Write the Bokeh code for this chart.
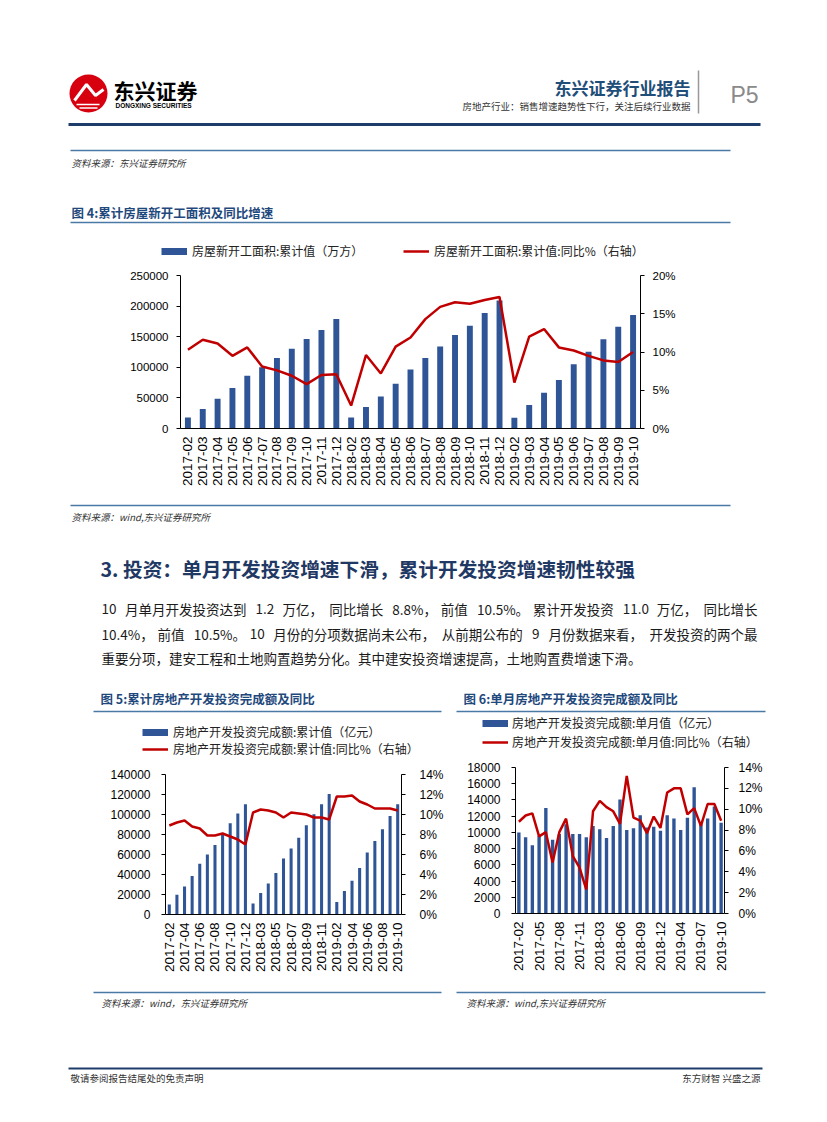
import math
from bokeh.plotting import figure
from bokeh.models import (Range1d, LinearAxis, FixedTicker, PrintfTickFormatter,
                          Legend, LegendItem)
from bokeh.layouts import column, row
from bokeh.embed import file_html
from bokeh.resources import INLINE
from bokeh.core.properties import value

CJK = "Noto Sans CJK SC"
LAT = "Liberation Sans"
BAR = "#2F5597"
RED = "#C00000"
NAVY = "#1F497D"
RULE = "#4A79A5"

# ---------------- data ----------------
months = ["2017-02", "2017-03", "2017-04", "2017-05", "2017-06", "2017-07", "2017-08",
          "2017-09", "2017-10", "2017-11", "2017-12",
          "2018-02", "2018-03", "2018-04", "2018-05", "2018-06", "2018-07", "2018-08",
          "2018-09", "2018-10", "2018-11", "2018-12",
          "2019-02", "2019-03", "2019-04", "2019-05", "2019-06", "2019-07", "2019-08",
          "2019-09", "2019-10"]

newstart_cum = [18000, 31700, 48600, 66000, 86300, 100000, 115200, 130500, 146300, 161000, 179000,
                18000, 35000, 52400, 73200, 96600, 115200, 134000, 152600, 168000, 188700, 209000,
                17500, 38300, 58500, 79300, 105000, 125300, 146000, 166300, 185400]
newstart_yoy = [10.3, 11.6, 11.1, 9.5, 10.6, 8.1, 7.6, 6.9, 5.8, 7.0, 7.1,
                3.0, 9.6, 7.2, 10.7, 11.9, 14.3, 15.9, 16.5, 16.3, 16.8, 17.2,
                6.0, 12.0, 13.0, 10.6, 10.2, 9.5, 8.9, 8.7, 10.0]

inv_cum = [10000, 19700, 28000, 38400, 50800, 60100, 69500, 80500, 91200, 100900, 110200,
           11000, 21400, 31000, 41400, 56100, 66100, 76800, 89200, 100200, 110200, 120600,
           12400, 23400, 33700, 46400, 62100, 73500, 85200, 98500, 110200]
inv_cum_yoy = [8.9, 9.2, 9.4, 8.8, 8.6, 7.9, 7.9, 8.1, 7.8, 7.5, 7.0,
               10.2, 10.5, 10.4, 10.2, 9.7, 10.2, 10.1, 10.0, 9.7, 9.7, 9.5,
               11.8, 11.8, 11.9, 11.3, 11.0, 10.6, 10.6, 10.6, 10.4]

inv_month = [10000, 9400, 8400, 9600, 13000, 9100, 9800, 11000, 9800, 9800, 9400,
             10800, 10400, 9300, 10800, 14050, 10300, 10500, 12100, 10600, 10700, 10200,
             12100, 11700, 10300, 11800, 15550, 11000, 11700, 13200, 11200]
inv_month_yoy = [8.8, 9.4, 9.6, 7.4, 7.8, 4.9, 7.8, 9.1, 5.5, 4.4, 2.3,
                 9.8, 10.8, 10.2, 9.8, 8.6, 13.2, 9.2, 8.9, 7.7, 9.3, 8.2,
                 11.6, 12.0, 12.0, 9.5, 10.1, 8.4, 10.5, 10.5, 8.9]

ticks4_left = [0, 50000, 100000, 150000, 200000, 250000]
ticks4_right = [0, 5, 10, 15, 20]
ticks5_left = [0, 20000, 40000, 60000, 80000, 100000, 120000, 140000]
ticks5_right = [0, 2, 4, 6, 8, 10, 12, 14]
ticks6_left = [0, 2000, 4000, 6000, 8000, 10000, 12000, 14000, 16000, 18000]
ticks6_right = [0, 2, 4, 6, 8, 10, 12, 14]

leg4_bar = "房屋新开工面积:累计值（万方）"
leg4_line = "房屋新开工面积:累计值:同比%（右轴）"
leg5_bar = "房地产开发投资完成额:累计值（亿元）"
leg5_line = "房地产开发投资完成额:累计值:同比%（右轴）"
leg6_bar = "房地产开发投资完成额:单月值（亿元）"
leg6_line = "房地产开发投资完成额:单月值:同比%（右轴）"

para = ["10 月单月开发投资达到 1.2 万亿，同比增长 8.8%，前值 10.5%。累计开发投资 11.0 万亿，同比增长",
        "10.4%，前值 10.5%。10 月份的分项数据尚未公布，从前期公布的 9 月份数据来看，开发投资的两个最",
        "重要分项，建安工程和土地购置趋势分化。其中建安投资增速提高，土地购置费增速下滑。"]


# ---------------- helpers ----------------
def deco(x0, x1, y0, y1):
    p = figure(width=x1 - x0, height=y1 - y0, x_range=Range1d(x0, x1), y_range=Range1d(y1, y0),
               output_backend="svg", toolbar_location=None, min_border=0,
               x_axis_location=None, y_axis_location=None)
    p.frame_align = False
    p.grid.visible = False
    p.outline_line_color = None
    return p


def txt(p, x, y, s, size, color="#000000", font=CJK, style="normal", align="left"):
    p.text(x=[x], y=[y], text=[s], text_font=value(font), text_font_size=f"{size}px",
           text_color=color, text_font_style=style, text_align=align, text_baseline="middle")


def hline(p, x0, x1, y, color=RULE, w=1.5):
    p.line([x0, x1], [y, y], line_color=color, line_width=w)


def char_w(c):
    if ord(c) > 0x2000:
        return 1.0
    if c.isdigit():
        return 0.53
    if c == ".":
        return 0.26
    if c == "%":
        return 0.82
    if c == " ":
        return 0.22
    return 0.53


def justified(p, x0, x1, y, s, size, color, justify=True):
    # split into phrases at spaces and after full-width punctuation
    chunks, cur, sp = [], "", 0.0
    for c in s:
        if c == " ":
            if cur:
                chunks.append((cur, sp))
                cur, sp = "", 0.0
            sp += char_w(c) * size
            continue
        cur += c
        if c in "，。":
            chunks.append((cur, sp))
            cur, sp = "", 0.0
    if cur:
        chunks.append((cur, sp))
    width = lambda t: sum(char_w(ch) for ch in t) * size
    nat = sum(width(t) + b for t, b in chunks)
    extra = (x1 - x0 - nat) / (len(chunks) - 1) if justify else 0.0
    x = x0
    for i, (t, b) in enumerate(chunks):
        x += b + (extra if i > 0 else 0.0)
        txt(p, x, y, t, size, color=color)
        x += width(t)


def legend_in(p, page_x0, page_y1, kind, label, sx, sy, standoff):
    """Legend entry placed inside a page-strip figure (screen offsets from its frame)."""
    if kind == "bar":
        r = p.line(x=[sx], y=[sy], line_color=BAR, line_width=7)
    else:
        r = p.line(x=[sx], y=[sy], line_color=RED, line_width=2.5)
    h = 16
    leg = Legend(items=[LegendItem(label=label, renderers=[r])],
                 location=(sx - page_x0, page_y1 - sy - h / 2), orientation="vertical",
                 padding=0, margin=0, spacing=0, glyph_width=26, glyph_height=h,
                 label_height=h, label_standoff=standoff, border_line_color=None,
                 background_fill_alpha=0, label_text_font=CJK,
                 label_text_font_size="12px", label_text_color="#222222")
    p.add_layout(leg)


def style_axis(ax, size):
    ax.axis_line_color = "#000000"
    ax.axis_line_width = 1
    ax.major_tick_line_color = "#000000"
    ax.major_tick_out = 4
    ax.major_tick_in = 0
    ax.minor_tick_line_color = None
    ax.major_label_text_font = LAT
    ax.major_label_text_font_size = f"{size}px"
    ax.major_label_text_color = "#000000"


def chart(page_x0, page_x1, page_y0, page_y1, fl, fr, ft, fb, ymax, lticks, rmax, rticks,
          step, bars, yoy, bar_w, fsize, lstand, rstand):
    p = figure(frame_width=fr - fl, frame_height=fb - ft,
               min_border_left=fl - page_x0, min_border_right=page_x1 - fr,
               min_border_top=ft - page_y0, min_border_bottom=page_y1 - fb,
               x_range=Range1d(-0.5, len(months) - 0.5), y_range=Range1d(0, ymax),
               output_backend="svg", toolbar_location=None, title=None)
    p.frame_align = False
    p.grid.visible = False
    p.outline_line_color = None
    p.extra_y_ranges = {"r": Range1d(0, rmax)}
    idx = list(range(len(months)))
    p.vbar(x=idx, top=bars, width=bar_w, fill_color=BAR, line_color=None)
    p.line(x=idx, y=yoy, y_range_name="r", line_color=RED, line_width=2.5)

    xa = p.xaxis[0]
    style_axis(xa, 13.5)
    xticks = idx[::step]
    xa.ticker = FixedTicker(ticks=xticks)
    xa.major_label_overrides = {i: months[i] for i in xticks}
    xa.major_label_orientation = math.pi / 2
    xa.major_tick_line_color = None
    xa.major_label_standoff = 4

    ya = p.yaxis[0]
    style_axis(ya, fsize)
    ya.ticker = FixedTicker(ticks=lticks)
    ya.formatter = PrintfTickFormatter(format="%d")
    ya.major_label_standoff = lstand

    ra = LinearAxis(y_range_name="r", ticker=FixedTicker(ticks=rticks),
                    formatter=PrintfTickFormatter(format="%d%%"))
    style_axis(ra, fsize)
    ra.major_label_standoff = rstand
    p.add_layout(ra, "right")
    return p


# ---------------- header (page y 0..262) ----------------
TOP_Y1 = 262
top = deco(0, 819, 0, TOP_Y1)
top.circle(x=[88], y=[93], radius=19, fill_color="#D7000F", line_color=None)
top.line([74, 86, 95, 103], [100, 84, 95, 89], line_color="white", line_width=3)
top.line([76, 99], [104, 104], line_color="white", line_width=1.5)
top.line([79, 97], [107.5, 107.5], line_color="white", line_width=1.5)
txt(top, 113, 89, "东兴证券", 21, style="bold")
txt(top, 115, 105, "DONGXING SECURITIES", 6.5, font=LAT, style="bold")
txt(top, 690, 87, "东兴证券行业报告", 17, color="#1F4E79", style="bold", align="right")
txt(top, 690, 105, "房地产行业：销售增速趋势性下行，关注后续行业数据", 9.5, color="#333333", align="right")
top.line([698, 698], [70, 113], line_color="#999999", line_width=1.5)
txt(top, 730, 94, "P5", 23, color="#8A8A8A", font=LAT)
hline(top, 68, 760, 124, color="#1F3D6B", w=3)
hline(top, 70, 730, 150)
txt(top, 71, 162, "资料来源：东兴证券研究所", 9.5, color="#333333", style="italic")
txt(top, 71, 212, "图 4:累计房屋新开工面积及同比增速", 12.5, color=NAVY, style="bold")
hline(top, 70, 730, 222)
legend_in(top, 0, TOP_Y1, "bar", leg4_bar, 161, 251, 5)
legend_in(top, 0, TOP_Y1, "line", leg4_line, 403, 251, 5)

# ---------------- chart 4 ----------------
c4 = chart(0, 819, TOP_Y1, 500, 180, 640, 275, 428, 250000, ticks4_left, 20, ticks4_right,
           1, newstart_cum, newstart_yoy, 0.4, 11.5, 8, 8)

# ---------------- middle text (page y 500..758) ----------------
MID_Y1 = 758
mid = deco(0, 819, 500, MID_Y1)
hline(mid, 70, 730, 505)
txt(mid, 71, 516, "资料来源：wind,东兴证券研究所", 9.5, color="#333333", style="italic")
txt(mid, 100, 568, "3. 投资：单月开发投资增速下滑，累计开发投资增速韧性较强", 19.7, color="#1F3864", style="bold")
justified(mid, 101, 757, 608, para[0], 13.5, "#1A1A1A")
justified(mid, 101, 757, 633, para[1], 13.5, "#1A1A1A")
justified(mid, 101, 757, 657, para[2], 13.5, "#1A1A1A", justify=False)
txt(mid, 100, 698, "图 5:累计房地产开发投资完成额及同比", 12.5, color=NAVY, style="bold")
hline(mid, 93, 441, 711)
txt(mid, 463, 698, "图 6:单月房地产开发投资完成额及同比", 12.5, color=NAVY, style="bold")
hline(mid, 456, 765, 711)
legend_in(mid, 0, MID_Y1, "bar", leg5_bar, 142, 732, 5)
legend_in(mid, 0, MID_Y1, "line", leg5_line, 142, 749, 5)
legend_in(mid, 0, MID_Y1, "bar", leg6_bar, 482, 723, 4)
legend_in(mid, 0, MID_Y1, "line", leg6_line, 482, 742, 4)

# ---------------- charts 5 & 6 ----------------
c5 = chart(0, 450, MID_Y1, 985, 165, 401, 774, 914, 140000, ticks5_left, 14, ticks5_right,
           2, inv_cum, inv_cum_yoy, 0.4, 12, 11, 14)
c6 = chart(450, 819, MID_Y1, 985, 515, 724, 767, 913, 18000, ticks6_left, 14, ticks6_right,
           3, inv_month, inv_month_yoy, 0.5, 12, 11, 10)

# ---------------- footer ----------------
bot = deco(0, 819, 985, 1114)
hline(bot, 93, 441, 992)
hline(bot, 456, 765, 992)
txt(bot, 101, 1002, "资料来源：wind，东兴证券研究所", 9.5, color="#333333", style="italic")
txt(bot, 466, 1002, "资料来源：wind,东兴证券研究所", 9.5, color="#333333", style="italic")
hline(bot, 68, 762, 1068, color="#1F3D6B", w=2)
txt(bot, 70, 1077, "敬请参阅报告结尾处的免责声明", 9.5, color="#333333")
txt(bot, 760, 1077, "东方财智 兴盛之源", 9.5, color="#333333", align="right")

page = column(top, c4, mid, row(c5, c6), bot)
open("out.html", "w").write(file_html(page, INLINE))
